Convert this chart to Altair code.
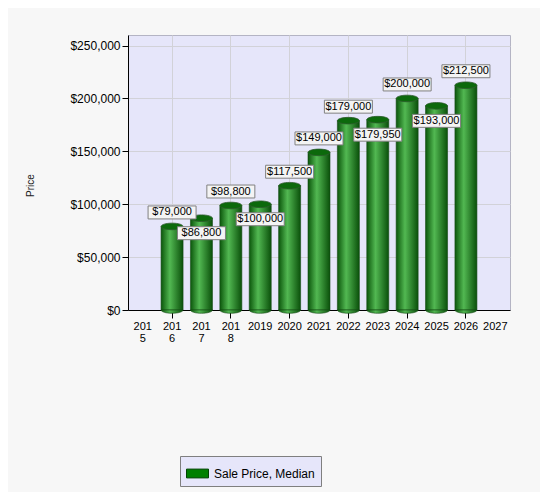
import altair as alt
import pandas as pd

# ---- data ----
years = ["2016", "2017", "2018", "2019", "2020", "2021", "2022", "2023", "2024", "2025", "2026"]
axis_years = ["2015", "2016", "2017", "2018", "2019", "2020", "2021", "2022", "2023", "2024", "2025", "2026", "2027"]
tick_years = ["2016", "2018", "2020", "2022", "2024", "2026"]
prices = [79000, 86800, 98800, 100000, 117500, 149000, 179000, 179950, 200000, 193000, 212500]
price_ticks = [0, 50000, 100000, 150000, 200000, 250000]
series_name = "Sale Price, Median"

df = pd.DataFrame({"year": years, "price": prices, "series": [series_name] * len(years)})

FONT = "Liberation Sans"

cyl_gradient = {
    "gradient": "linear",
    "x1": 0, "y1": 0, "x2": 1, "y2": 0,
    "stops": [
        {"offset": 0, "color": "#0b560b"},
        {"offset": 0.4, "color": "#52b852"},
        {"offset": 1, "color": "#0a500a"},
    ],
}

ellipse_full = "M-1,0A1,0.3,0,1,1,1,0A1,0.3,0,1,1,-1,0Z"
ellipse_bottom = "M-1,0A1,0.3,0,0,0,1,0Z"
box_path = "M-1,-0.27H1V0.27H-1Z"
legend_symbol = "M-1,-0.4H1V0.4H-1Z"

split_labels = "indexof(['2015','2016','2017','2018'], datum.label) >= 0 ? [substring(datum.label,0,3), substring(datum.label,3)] : datum.label"
tick_test = "indexof(" + str(tick_years) + ", datum.value) >= 0"
every_other = {"condition": {"test": tick_test, "value": 1}, "value": 0}

x_enc = alt.X(
    "year:O",
    scale=alt.Scale(domain=axis_years, paddingInner=0.2, paddingOuter=0.1),
    axis=alt.Axis(
        title=None, labelAngle=0, labelExpr=split_labels, labelFont=FONT,
        labelFontSize=11, labelColor="black", domainColor="black",
        tickColor="black", tickSize=8, tickOpacity=every_other,
        grid=True, gridColor="#D2D2D8", gridOpacity=every_other,
        labelLineHeight=12,
    ),
)
y_enc = alt.Y(
    "price:Q",
    scale=alt.Scale(domain=[0, 250000]),
    axis=alt.Axis(
        values=price_ticks, format="$,.0f", title="Price", titleFont=FONT,
        titleFontSize=10, titleFontWeight="normal", titleColor="#222222",
        titleX=-93, titleY=150, labelFont=FONT, labelFontSize=12,
        labelColor="black", domainColor="black", tickColor="black",
        tickSize=6, gridColor="#D2D2D8",
    ),
)

base = alt.Chart(df).transform_window(
    prev="lag(price)", sort=[alt.SortField("year")]
).transform_calculate(
    step="datum.prev == null ? 1e9 : datum.price - datum.prev"
)

bars = base.mark_bar(width=22, fill=cyl_gradient, stroke="#164a16", strokeWidth=0.6).encode(
    x=x_enc, y=y_enc
)

bottoms = base.mark_point(
    shape=ellipse_bottom, size=484, filled=True, fill=cyl_gradient,
    stroke="#164a16", strokeWidth=0.6, opacity=1
).encode(x="year:O", y=alt.datum(0))

tops = base.mark_point(
    shape=ellipse_full, size=484, filled=True, fill="#0c690c",
    stroke="#2e5a2e", strokeWidth=0.8, opacity=1
).encode(x="year:O", y="price:Q")

up = alt.datum.step >= 10000
down = alt.datum.step < 10000

box_up = base.transform_filter(up).mark_point(
    shape=box_path, size=2304, filled=True, fill="#F4F4F4",
    stroke="#808080", strokeWidth=1, opacity=1
).encode(x="year:O", y="price:Q", yOffset=alt.value(-14))

box_down = base.transform_filter(down).mark_point(
    shape=box_path, size=2304, filled=True, fill="#F4F4F4",
    stroke="#808080", strokeWidth=1, opacity=1
).encode(x="year:O", y="price:Q", yOffset=alt.value(15))

txt_up = base.transform_filter(up).mark_text(
    font=FONT, fontSize=11, color="black", baseline="middle", dy=-14
).encode(x="year:O", y="price:Q", text=alt.Text("price:Q", format="$,.0f"))

txt_down = base.transform_filter(down).mark_text(
    font=FONT, fontSize=11, color="black", baseline="middle", dy=15
).encode(x="year:O", y="price:Q", text=alt.Text("price:Q", format="$,.0f"))

legend_layer = base.mark_point(filled=True, opacity=0, size=1).encode(
    x="year:O",
    y="price:Q",
    color=alt.Color(
        "series:N",
        scale=alt.Scale(range=["#008000"]),
        legend=alt.Legend(
            title=None, orient="none", legendX=52, legendY=421,
            symbolType=legend_symbol, symbolSize=484, symbolFillColor="#008000",
            symbolStrokeColor="#004400", symbolStrokeWidth=1, symbolOpacity=1,
            labelFont=FONT, labelFontSize=12, labelColor="black",
            fillColor="#E6E6FA", strokeColor="#7f7f7f", padding=6,
            labelOffset=5,
        ),
    ),
)

chart = alt.layer(
    bars, bottoms, tops, box_up, box_down, txt_up, txt_down, legend_layer
).properties(
    width=382, height=275,
    padding={"left": 120, "top": 27, "right": 30, "bottom": 182},
    autosize="none",
    background="#F7F7F7",
).configure_view(
    fill="#E6E6FA", stroke="#B4B4C4"
)

chart.save("out.html", embed_options={"renderer": "svg", "actions": False})
